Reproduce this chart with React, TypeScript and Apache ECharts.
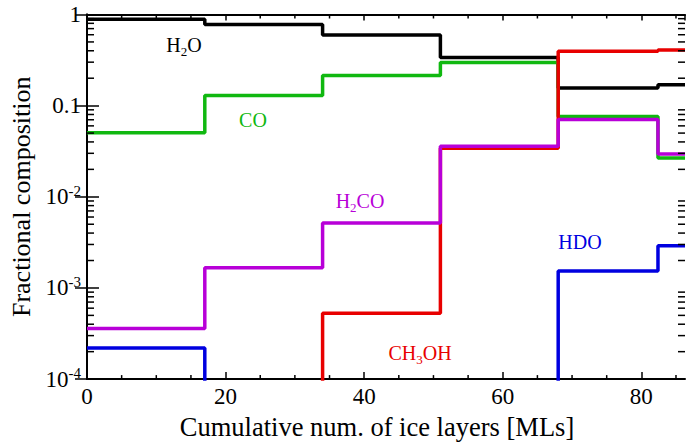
import React, { useEffect, useRef } from "react";
import * as echarts from "echarts";

// Bin edges (cumulative number of ice layers, MLs)
const xEdges = [0, 17, 34, 51, 68, 82.4, 86.3];
const BELOW = 1e-7; // below the visible axis range (drawn off-grid, clipped)
// Fractional composition per bin
const h2o = [0.887, 0.776, 0.597, 0.337, 0.156, 0.17];
const co = [0.0503, 0.129, 0.214, 0.298, 0.076, 0.0266];
const ch3oh = [BELOW, BELOW, 5.27e-4, 0.034, 0.394, 0.407];
const h2co = [3.6e-4, 1.67e-3, 5.17e-3, 0.0358, 0.0707, 0.0294];
const hdo = [2.2e-4, BELOW, BELOW, BELOW, 1.53e-3, 2.9e-3];

const seriesNames = ["H2O", "CO", "CH3OH", "H2CO", "HDO"];
const seriesColors = ["#000000", "#10b810", "#e80000", "#b800d8", "#0000e0"];
const seriesValues = [h2o, co, ch3oh, h2co, hdo];

const X_MIN = 0;
const X_MAX = 86.3;
const Y_MIN = 1e-4;
const Y_MAX = 1;
const xMinorTicks = [5, 10, 15, 25, 30, 35, 45, 50, 55, 65, 70, 75, 85];
const yMinorTicks: number[] = [];
for (let e = -4; e < 0; e++) {
  for (let m = 2; m <= 9; m++) yMinorTicks.push(m * Math.pow(10, e));
}

const FONT = "'Liberation Serif', 'Times New Roman', Times, serif";

function stepData(vals: number[]) {
  return xEdges.map((x, i) => [x, vals[Math.min(i, vals.length - 1)]]);
}

export default function App() {
  const ref = useRef<HTMLDivElement>(null);
  useEffect(() => {
    if (!ref.current) return;
    const chart = echarts.init(ref.current, undefined, { renderer: "svg" });

    const yLabel = (v: number) => {
      const e = Math.round(Math.log10(v));
      if (e === 0) return "{b|1}";
      if (e === -1) return "{b|0.1}";
      return `{b|10}{s|${e}}`;
    };

    const lineSeries = seriesNames.map((name, i) => ({
      name,
      type: "line",
      step: "end",
      data: stepData(seriesValues[i]),
      showSymbol: false,
      symbol: "none",
      clip: true,
      lineStyle: { color: seriesColors[i], width: 3.5 },
      z: 2 + i,
    }));

    const sub = (color: string) => ({
      n: { fontFamily: FONT, fontSize: 20, fill: color },
      sub: { fontFamily: FONT, fontSize: 13, fill: color, padding: [12, 0, 0, 0] },
    });

    const option: any = {
      animation: false,
      backgroundColor: "#ffffff",
      textStyle: { fontFamily: FONT },
      grid: { left: 84, right: 4, top: 14.5, bottom: 59, containLabel: false },
      xAxis: [
        {
          type: "value",
          min: X_MIN,
          max: X_MAX,
          interval: 20,
          position: "bottom",
          name: "Cumulative num. of ice layers [MLs]",
          nameLocation: "middle",
          nameGap: 30,
          nameTextStyle: { fontFamily: FONT, fontSize: 26.5, color: "#000", padding: [0, 18, 0, 0] },
          axisLine: { show: true, lineStyle: { color: "#000", width: 2 } },
          axisTick: { show: true, inside: true, length: 7, lineStyle: { color: "#000", width: 1.5 } },
          axisLabel: { fontFamily: FONT, fontSize: 23, color: "#000", margin: 6, showMaxLabel: false },
          splitLine: { show: false },
        },
        {
          type: "value",
          min: X_MIN,
          max: X_MAX,
          interval: 20,
          position: "top",
          axisLine: { show: true, lineStyle: { color: "#000", width: 2 } },
          axisTick: { show: true, inside: true, length: 6, lineStyle: { color: "#000", width: 1.5 } },
          axisLabel: { show: false },
          splitLine: { show: false },
        },
      ],
      yAxis: [
        {
          type: "log",
          logBase: 10,
          min: Y_MIN,
          max: Y_MAX,
          position: "left",
          name: "Fractional composition",
          nameLocation: "middle",
          nameGap: 53,
          nameRotate: 90,
          nameTextStyle: { fontFamily: FONT, fontSize: 26, color: "#000" },
          axisLine: { show: true, lineStyle: { color: "#000", width: 2 } },
          axisTick: { show: true, inside: true, length: 12, lineStyle: { color: "#000", width: 1.5 } },
          axisLabel: {
            fontFamily: FONT,
            fontSize: 23,
            color: "#000",
            margin: 6,
            formatter: yLabel,
            rich: {
              b: { fontFamily: FONT, fontSize: 23, color: "#000" },
              s: { fontFamily: FONT, fontSize: 15, color: "#000", padding: [0, 0, 12, 0] },
            },
          },
          splitLine: { show: false },
        },
        {
          type: "log",
          logBase: 10,
          min: Y_MIN,
          max: Y_MAX,
          position: "right",
          axisLine: { show: true, lineStyle: { color: "#000", width: 2 } },
          axisTick: { show: true, inside: true, length: 12, lineStyle: { color: "#000", width: 1.5 } },
          axisLabel: { show: false },
          splitLine: { show: false },
        },
      ],
      series: [
        ...lineSeries,
        {
          type: "custom",
          silent: true,
          xAxisIndex: 0,
          yAxisIndex: 0,
          data: yMinorTicks.map((v) => [X_MIN, v]),
          renderItem: (params: any, api: any) => {
            const v = api.value(1);
            const p = api.coord([X_MIN, v]);
            const q = api.coord([X_MAX, v]);
            const st = { stroke: "#000", lineWidth: 1.5 };
            return {
              type: "group",
              children: [
                { type: "line", shape: { x1: p[0], y1: p[1], x2: p[0] + 7, y2: p[1] }, style: st },
                { type: "line", shape: { x1: q[0] - 7, y1: q[1], x2: q[0], y2: q[1] }, style: st },
              ],
            };
          },
          z: 10,
        },
        {
          type: "custom",
          silent: true,
          xAxisIndex: 0,
          yAxisIndex: 0,
          data: xMinorTicks.map((x) => [x, Y_MIN]),
          renderItem: (params: any, api: any) => {
            const x = api.value(0);
            const p = api.coord([x, Y_MIN]);
            const q = api.coord([x, Y_MAX]);
            const st = { stroke: "#000", lineWidth: 1.5 };
            return {
              type: "group",
              children: [
                { type: "line", shape: { x1: p[0], y1: p[1], x2: p[0], y2: p[1] - 4 }, style: st },
                { type: "line", shape: { x1: q[0], y1: q[1], x2: q[0], y2: q[1] + 4 }, style: st },
              ],
            };
          },
          z: 10,
        },
      ],
      graphic: [
        {
          type: "text",
          x: 184,
          y: 45,
          style: { text: "{n|H}{sub|2}{n|O}", align: "center", verticalAlign: "middle", rich: sub("#000") },
        },
        {
          type: "text",
          x: 253,
          y: 120,
          style: {
            text: "CO",
            font: `20px ${FONT}`,
            fill: seriesColors[1],
            align: "center",
            verticalAlign: "middle",
          },
        },
        {
          type: "text",
          x: 360,
          y: 201,
          style: { text: "{n|H}{sub|2}{n|CO}", align: "center", verticalAlign: "middle", rich: sub(seriesColors[3]) },
        },
        {
          type: "text",
          x: 420,
          y: 353,
          style: { text: "{n|CH}{sub|3}{n|OH}", align: "center", verticalAlign: "middle", rich: sub(seriesColors[2]) },
        },
        {
          type: "text",
          x: 580,
          y: 242,
          style: {
            text: "HDO",
            font: `20px ${FONT}`,
            fill: seriesColors[4],
            align: "center",
            verticalAlign: "middle",
          },
        },
      ],
    };

    chart.setOption(option);
    return () => chart.dispose();
  }, []);

  return <div ref={ref} style={{ width: 689, height: 445, position: "absolute", left: 0, top: 0 }} />;
}
